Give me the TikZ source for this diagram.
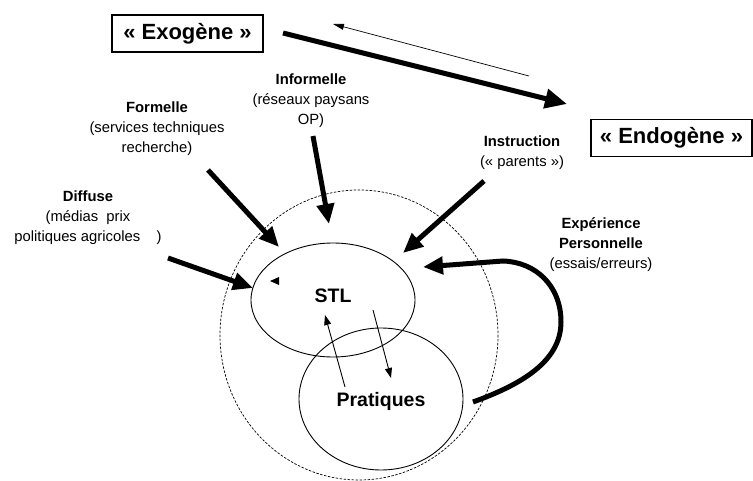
\documentclass[tikz,border=0pt]{standalone}
\usepackage{fontspec}
\setmainfont{Liberation Sans}
\usetikzlibrary{arrows.meta}
\begin{document}
\begin{tikzpicture}[x=1pt,y=-1pt,
  boxlabel/.style={draw,line width=1.2pt,inner sep=0pt,minimum height=37pt,font=\fontsize{22}{24}\selectfont\bfseries},
  srclabel/.style={align=center,inner sep=0pt,font=\fontsize{14.8}{20}\selectfont},
  bigword/.style={inner sep=0pt,font=\fontsize{19.5}{24}\selectfont\bfseries},
  heavy/.style={line width=5pt,-{Triangle[length=20pt,width=17pt]}},
  thin/.style={line width=0.9pt,-{Triangle[length=10pt,width=7pt]}},
  ring/.style={draw,line width=0.9pt}]
\useasboundingbox (0,0) rectangle (753,481);

% the two poles and the flow between them
\node[boxlabel,minimum width=151pt] (exo) at (187.5,33.5) {« Exogène »};
\node[boxlabel,minimum width=161pt] (endo) at (671.5,138) {« Endogène »};
\coordinate (exoout) at (283,33);
\coordinate (endoin) at (567,104);
\coordinate (backstart) at (529,76);
\coordinate (backend) at (333,24);
\draw[line width=5pt,-{Triangle[length=22pt,width=19pt]}] (exoout) -- (endoin);
\draw[line width=0.7pt,-{Triangle[length=11pt,width=6pt]}] (backstart) -- (backend);

% circles: learning system and practices
\draw[line width=0.7pt,dashed,dash pattern=on 2.5pt off 1.5pt] (359,335) ellipse [x radius=139, y radius=145];
\draw[ring] (333,300) ellipse [x radius=82, y radius=57];
\draw[ring] (381,399) ellipse [x radius=82, y radius=71];
\node[bigword] (stl) at (333,296) {STL};
\node[bigword] (prat) at (381,401) {Pratiques};

% sources of knowledge
\node[srclabel] (inf) at (311,101) {\textbf{Informelle}\\(réseaux paysans\\OP)};
\node[srclabel] (form) at (157,129) {\textbf{Formelle}\\(services techniques\\recherche)};
\node[srclabel] (diff) at (88,218) {\textbf{Diffuse}\\(médias\ \ prix\\politiques agricoles\ \ \ \ )};
\node[srclabel] (instr) at (522,153) {\textbf{Instruction}\\(« parents »)};
\node[srclabel] (exp) at (601,245) {\textbf{Expérience}\\\textbf{Personnelle}\\(essais/erreurs)};

\coordinate (infA) at (313,136);  \coordinate (infB) at (329,224);
\coordinate (formA) at (208,170); \coordinate (formB) at (279,247);
\coordinate (diffA) at (168,258); \coordinate (diffB) at (253,288);
\coordinate (instrA) at (484,181); \coordinate (instrB) at (403,253);
\draw[heavy] (infA) -- (infB);
\draw[heavy] (formA) -- (formB);
\draw[heavy] (diffA) -- (diffB);
\draw[heavy] (instrA) -- (instrB);

% loop of personal experience from practices back to STL
\coordinate (expA) at (473,402);
\coordinate (expB) at (423,267);
\draw[line width=5pt,-{Triangle[length=20pt,width=17pt]}]
  (expA) .. controls (520,385) and (561,362) .. (561,322)
  .. controls (561,285) and (535,262) .. (503,261) -- (expB);

% exchanges between STL and practices
\coordinate (pA) at (345,387); \coordinate (pB) at (325,315);
\coordinate (sA) at (373,310); \coordinate (sB) at (391,378);
\draw[thin] (pA) -- (pB);
\draw[thin] (sA) -- (sB);

% small mark inside STL
\fill (270,281) -- (279,277) -- (279,285) -- cycle;
\end{tikzpicture}
\end{document}
